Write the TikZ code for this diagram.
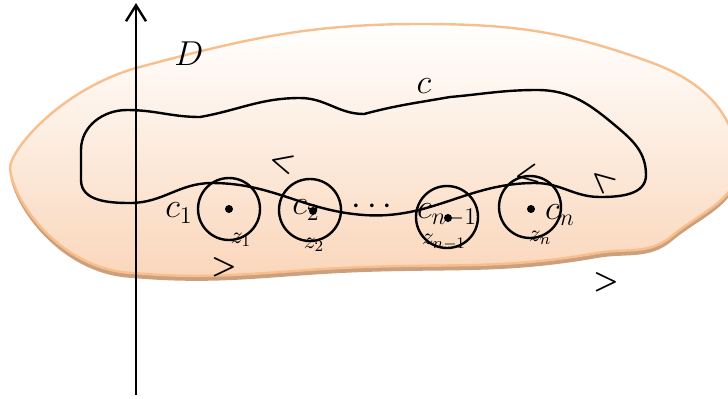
\documentclass[tikz,border=0pt]{standalone}
\usepackage{amsmath,amssymb}
\usetikzlibrary{arrows.meta}
\definecolor{peach}{RGB}{250,214,186}
\definecolor{peachline}{RGB}{248,190,140}
\definecolor{peachshadow}{RGB}{205,160,125}

\begin{document}
\begin{tikzpicture}[x=0.5pt, y=-0.5pt, line width=1.2pt,
  hole/.style={draw, circle, minimum size=31pt, inner sep=0pt},
  pole/.style={fill, circle, inner sep=0pt, minimum size=4pt},
  biglabel/.style={font=\fontsize{18}{20}\selectfont, inner sep=0pt},
  zlabel/.style={font=\fontsize{12}{14}\selectfont, inner sep=0pt},
  chev/.style={font=\fontsize{14}{16}\selectfont, inner sep=0pt}]
\useasboundingbox (0,0) rectangle (728,398);
\clip (0,0) rectangle (728,398);
\draw[peachline, top color=white, bottom color=peach,
  preaction={fill=peachshadow, transform canvas={yshift=-2.5pt}}]
  (10,168) .. controls (10,150) and (60,90) .. (136,68)
  to[out=15,in=180] (420,24)
  to[out=0,in=160] (650,62) to[out=-20,in=95] (738,160)
  to[out=-85,in=40] (672,236) to[out=220,in=10] (597,253)
  to[out=190,in=2] (364,267) to[out=182,in=-5] (133,273)
  .. controls (60,270) and (12,200) .. cycle;
\draw (127,110) to[out=0,in=180] (200,117) to[out=10,in=180] (300,98)
  to[out=0,in=180] (364,114) to[out=15,in=190] (450,97)
  to[out=5,in=180] (537,90) to[out=0,in=140] (617,127)
  to[out=-40,in=90] (646,175) to[out=-90,in=0] (600,197)
  to[out=180,in=0] (535,183) to[out=180,in=-4] (364,215)
  to[out=176,in=0] (212,183) to[out=180,in=0] (130,203)
  to[out=180,in=-90] (81,180) -- (81,150) to[out=90,in=180] cycle;
\coordinate (ybot) at (136,395);
\coordinate (ytop) at (136,3);
\draw[-{Straight Barb[length=8pt,width=10pt]}] (ybot) -- (ytop);
\node[hole] (h1) at (229,209) {};
\node[hole] (h2) at (310,210) {};
\node[hole] (h3) at (447,217) {};
\node[hole] (h4) at (530,207) {};
\node[pole] (p1) at (229,209) {};
\node[pole] (p2) at (313,211) {};
\node[pole] (p3) at (448,218) {};
\node[pole] (p4) at (531,209) {};
\node[biglabel] (D) at (189,54) {$D$};
\node[biglabel] (C) at (424,86) {$c$};
\node[biglabel] (c1) at (179,213) {$c_1$};
\node[biglabel] (c2) at (306,210) {$c_2$};
\node[biglabel] (dots) at (375,207) {$\cdots$};
\node[biglabel] (c3) at (447,215) {$c_{n-1}$};
\node[biglabel] (c4) at (560,215) {$c_n$};
\node[zlabel] (z1) at (241,240) {$z_1$};
\node[zlabel] (z2) at (314,245) {$z_2$};
\node[zlabel] (z3) at (444,242) {$z_{n-1}$};
\node[zlabel] (z4) at (540,238) {$z_n$};
\node[chev, rotate=-15] (a1) at (282,163) {$\boldsymbol{<}$};
\node[chev] (a2) at (224,267) {$\boldsymbol{>}$};
\node[chev] (a3) at (606,282) {$\boldsymbol{>}$};
\node[chev, rotate=-41] (a4) at (602,181) {$\boldsymbol{<}$};
\node[chev, rotate=10] (a5) at (527,175) {$\boldsymbol{<}$};
\end{tikzpicture}
\end{document}
